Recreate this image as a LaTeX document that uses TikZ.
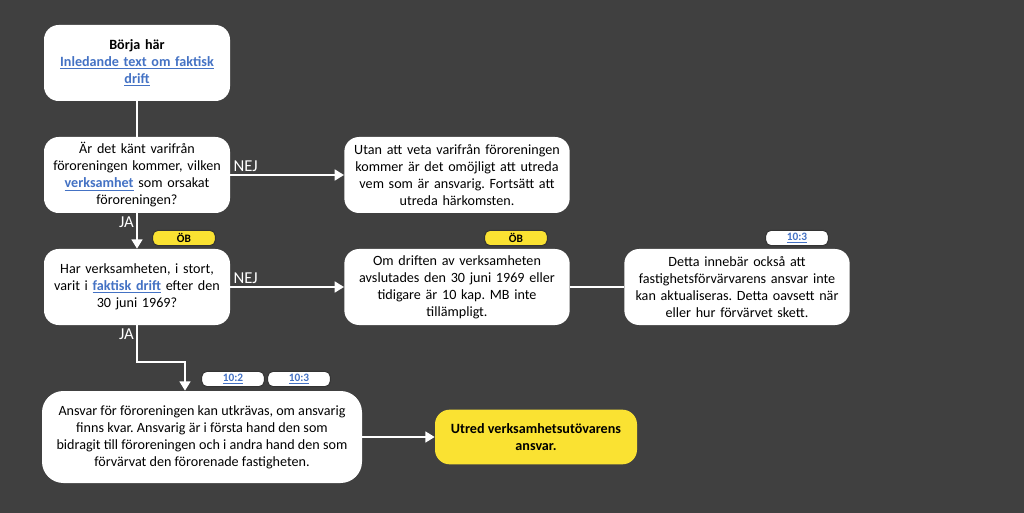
\documentclass[tikz,border=0pt]{standalone}
\usepackage{fontspec}
\setmainfont{Carlito}
\usepackage{tikz}
\usetikzlibrary{arrows.meta, positioning}

\definecolor{bggray}{RGB}{64,64,64}
\definecolor{tagyellow}{RGB}{250,226,50}
\definecolor{linkblue}{RGB}{68,114,196}

\newcommand{\lnk}[1]{\textcolor{linkblue}{\underline{\textbf{#1}}}}
\frenchspacing

\begin{document}
\begin{tikzpicture}[x=0.75pt, y=-0.75pt,
  every node/.style={font=\fontsize{10.6}{12.75}\selectfont},
  box/.style={fill=white, rounded corners=11pt, inner sep=0pt, align=center},
  smallbox/.style={box, minimum width=139.5pt, minimum height=57pt, text width=132pt},
  widebox/.style={box, minimum width=169pt, minimum height=57pt, text width=162pt},
  tag/.style={draw=black!80, line width=0.8pt, rounded corners=4pt, minimum width=47pt,
    minimum height=11.5pt, inner sep=0pt, font=\fontsize{8.5}{9}\selectfont\bfseries},
  arr/.style={draw=white, line width=1.9pt, -{Triangle[length=7pt, width=8pt]}},
  plain/.style={draw=white, line width=1.9pt},
  lbl/.style={text=white, font=\fontsize{12.5}{14}\selectfont, inner sep=1.5pt}]

  % background
  \fill[bggray] (0,0) rectangle (1024,513);
  \useasboundingbox (0,0) rectangle (1024,513);

  % left column
  \node[smallbox] (start) at (137,63) {\textbf{Börja här}\\\lnk{Inledande text om faktisk}\\\lnk{drift}};
  \node[smallbox] (q1) at (137,175) {Är det känt varifrån\\föroreningen kommer, vilken\\\lnk{verksamhet} som orsakat\\föroreningen?};
  \node[smallbox] (q2) at (137,287) {Har verksamheten, i stort,\\varit i \lnk{faktisk drift} efter den\\30 juni 1969?};

  % right column
  \node[widebox] (utan) at (457,175) {Utan att veta varifrån föroreningen\\kommer är det omöjligt att utreda\\vem som är ansvarig. Fortsätt att\\utreda härkomsten.};
  \node[widebox] (om) at (457,287) {Om driften av verksamheten\\avslutades den 30 juni 1969 eller\\tidigare är 10 kap. MB inte\\tillämpligt.};
  \node[widebox] (detta) at (737,287) {Detta innebär också att\\fastighetsförvärvarens ansvar inte\\kan aktualiseras. Detta oavsett när\\eller hur förvärvet skett.};

  % bottom row
  \node[box, minimum width=240pt, minimum height=69pt, rounded corners=16pt] (ansvar) at (202,437)
    {Ansvar för föroreningen kan utkrävas, om ansvarig\\finns kvar. Ansvarig är i första hand den som\\bidragit till föroreningen och i andra hand den som\\förvärvat den förorenade fastigheten.};
  \node[box, fill=tagyellow, minimum width=151.5pt, minimum height=41pt] (utred) at (536,437)
    {\textbf{Utred verksamhetsutövarens}\\\textbf{ansvar.}};

  % tags
  \node[tag, fill=tagyellow] (obA) at (184,238) {ÖB};
  \node[tag, fill=tagyellow] (obB) at (516,238) {ÖB};
  \node[tag, fill=white] (kapA) at (797,238) {\lnk{10:3}};
  \node[tag, fill=white] (kapB) at (233,379) {\lnk{10:2}};
  \node[tag, fill=white] (kapC) at (299,379) {\lnk{10:3}};

  % connectors
  \coordinate (jog) at (185,362);
  \draw[plain] (start.south) -- (q1.north);
  \draw[arr] (q1.east) -- (utan.west) node[lbl, pos=0, above right] {NEJ};
  \draw[arr] (q1.south) -- (q2.north) node[lbl, pos=0, below left] {JA};
  \draw[arr] (q2.east) -- (om.west) node[lbl, pos=0, above right] {NEJ};
  \draw[plain] (om.east) -- (detta.west);
  \draw[arr] (q2.south) node[lbl, below left] {JA} |- (jog) -- (jog |- ansvar.north);
  \draw[arr] (ansvar.east) -- (utred.west);
\end{tikzpicture}
\end{document}
